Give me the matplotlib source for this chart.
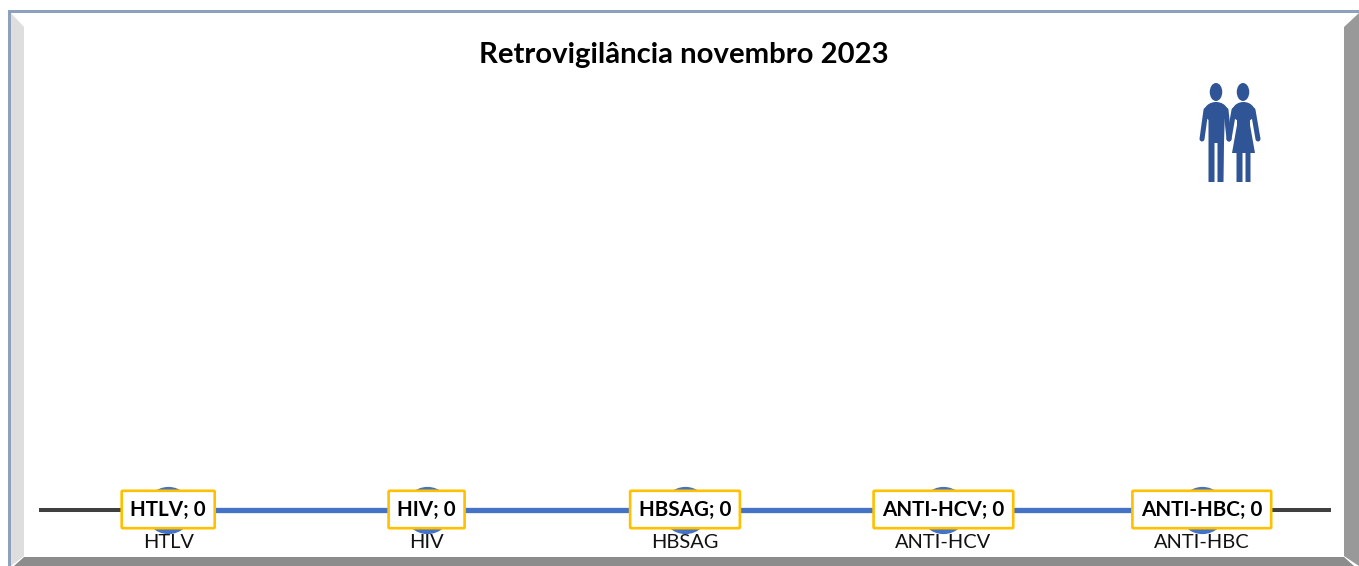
import matplotlib
matplotlib.use("Agg")
import matplotlib.pyplot as plt
from matplotlib.patches import Polygon, Ellipse, Rectangle

plt.rcParams['font.family'] = ['Lato', 'DejaVu Sans']

categories = ["HTLV", "HIV", "HBSAG", "ANTI-HCV", "ANTI-HBC"]
values = [0, 0, 0, 0, 0]
title = "Retrovigilância novembro 2023"

W, H = 1359, 566
BLUE = "#4472C4"
ICON = "#2F5597"
fig = plt.figure(figsize=(W / 100, H / 100), dpi=100, facecolor="white")

# Frame and icon in pixel coordinates
bg = fig.add_axes([0, 0, 1, 1])
bg.set_xlim(0, W)
bg.set_ylim(H, 0)
bg.axis("off")
bg.add_patch(Polygon([(11, 13), (24, 27), (24, 556), (11, 566)], fc="#DEDEDE", ec="none"))
bg.add_patch(Polygon([(1344, 27), (1359, 13), (1359, 566), (1344, 556)], fc="#999999", ec="none"))
bg.add_patch(Polygon([(14, 566), (24, 557), (1344, 557), (1354, 566)], fc="#8C8C8C", ec="none"))
bg.add_patch(Rectangle((8, 10), 3, 556, fc="#8DA0BC", ec="none"))
bg.add_patch(Rectangle((8, 10), 1351, 3, fc="#8DA0BC", ec="none"))


def limb(xs, ys):
    bg.plot(xs, ys, color=ICON, lw=3.6, solid_capstyle="round")


# Man
bg.add_patch(Ellipse((1216, 92), 12.5, 18, fc=ICON, ec="none"))
bg.add_patch(Ellipse((1216, 112), 24, 20, fc=ICON, ec="none"))
bg.add_patch(Polygon([(1208.5, 110), (1225, 110), (1224, 143), (1223.5, 182), (1217.5, 182), (1217.5, 143),
                      (1214.5, 143), (1214.5, 182), (1208.5, 182)], fc=ICON, ec="none"))
limb([1206, 1202], [110, 139])
limb([1226, 1229], [110, 139])
# Woman
bg.add_patch(Ellipse((1243, 92), 12.5, 18, fc=ICON, ec="none"))
bg.add_patch(Ellipse((1243.5, 112), 23, 20, fc=ICON, ec="none"))
bg.add_patch(Polygon([(1237, 112), (1250, 112), (1250, 125), (1255, 153), (1250.5, 153), (1250.5, 182),
                      (1245.5, 182), (1245.5, 153), (1242.5, 153), (1242.5, 182), (1236.5, 182), (1236.5, 153),
                      (1232, 153), (1237, 125)], fc=ICON, ec="none"))
limb([1234, 1229], [110, 139])
limb([1253, 1258], [110, 139])

# Chart
ax = fig.add_axes([39 / W, 1 - 509.5 / H, (1331 - 39) / W, (509.5 - 70) / H])
ax.patch.set_alpha(0)
x = list(range(len(categories)))
ax.set_xlim(-0.5, len(categories) - 0.5)
ax.set_ylim(0, 1)
for s in ("top", "left", "right"):
    ax.spines[s].set_visible(False)
ax.spines["bottom"].set_color("#404040")
ax.spines["bottom"].set_linewidth(2.9)
ax.spines["bottom"].set_capstyle("butt")
ax.set_yticks([])
ax.set_xticks(x, categories, fontsize=14.4, color="#111111")
ax.tick_params(axis="x", length=0, pad=17.5)
ax.plot(x, values, color=BLUE, lw=3.8, marker="o", ms=33, mfc=BLUE, mec=BLUE,
        clip_on=False, zorder=3, solid_capstyle="round")
for xi, v, c in zip(x, values, categories):
    ax.annotate(f"{c}; {v}", (xi, v), xytext=(0, 0), textcoords="offset points",
                ha="center", va="center", fontsize=14.9, fontweight="bold", color="black",
                zorder=5, annotation_clip=False,
                bbox=dict(boxstyle="round,pad=0.42,rounding_size=0.05", fc="white", ec="#FFC000", lw=1.9))

fig.text(684 / W, 1 - 54.5 / H, title, ha="center", va="center", fontsize=21.1,
         fontweight="bold", color="black")
fig.savefig("out.png", dpi=100)
